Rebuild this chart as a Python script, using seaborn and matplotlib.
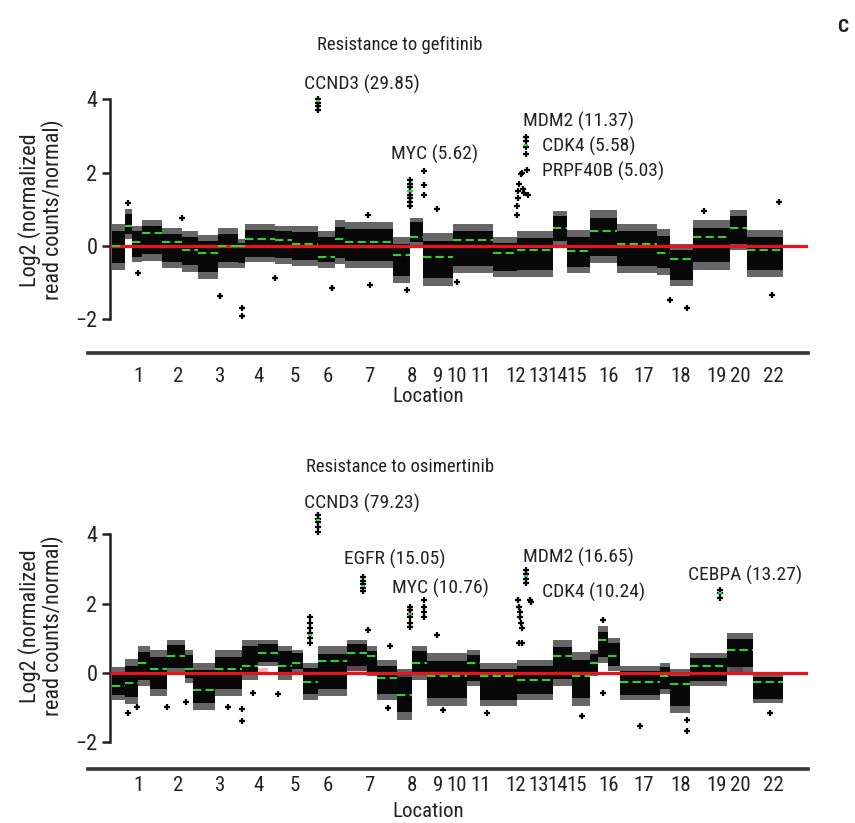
import numpy as np
import pandas as pd
import seaborn as sns
import matplotlib.pyplot as plt

# chromosome tick labels (21 is not labelled in the original) and their positions on the genome axis
chrom_labels = ['1', '2', '3', '4', '5', '6', '7', '8', '9', '10', '11', '12',
                '13', '14', '15', '16', '17', '18', '19', '20', '22']
chrom_pos = [29, 68, 110, 149, 185, 218, 259, 302, 328, 347, 371, 406,
             429, 448, 467, 499, 534, 571, 607, 630, 663]

# ---- gefitinib: segments (start, end, segment mean, cloud low, cloud high)
gef_x0 = [2, 15, 22, 32, 52, 72, 88, 108, 128, 135, 165, 182, 208, 225, 235,
          283, 300, 313, 343, 383, 407, 443, 457, 480, 507, 547, 560, 583, 620, 637]
gef_x1 = [15, 22, 32, 52, 72, 88, 108, 128, 135, 165, 182, 208, 225, 235, 283,
          300, 313, 343, 383, 407, 443, 457, 480, 507, 547, 560, 583, 620, 637, 673]
gef_mean = [0.0, 0.55, 0.1, 0.35, 0.1, -0.1, -0.2, 0.0, 0.0, 0.2, 0.15, 0.05, -0.3, 0.2, 0.1,
            -0.25, 0.25, -0.3, 0.15, -0.2, -0.1, 0.5, -0.15, 0.4, 0.05, -0.2, -0.35, 0.25, 0.5, -0.1]
gef_lo = [-0.65, 0.2, -0.45, -0.4, -0.6, -0.7, -0.9, -0.6, -0.6, -0.45, -0.5, -0.55, -0.6, -0.5, -0.6,
          -1.0, 0.0, -1.1, -0.75, -0.85, -0.85, 0.0, -0.75, -0.48, -0.75, -0.8, -1.1, -0.65, -0.1, -0.85]
gef_hi = [0.6, 1.0, 0.55, 0.7, 0.5, 0.4, 0.3, 0.5, 0.2, 0.6, 0.55, 0.55, 0.4, 0.7, 0.65,
          0.25, 0.75, 0.35, 0.6, 0.25, 0.4, 0.95, 0.42, 0.97, 0.6, 0.45, 0.05, 0.7, 0.97, 0.42]
# amplified bins
gef_amp_x = [208, 208, 208, 208, 300, 300, 300, 300, 300, 300, 300, 300, 314, 314, 314,
             407, 407, 408, 408, 409, 411, 412, 413, 414, 416, 416, 416, 416, 417, 418]
gef_amp_y = [4.0, 3.9, 3.8, 3.7, 1.8, 1.7, 1.6, 1.5, 1.4, 1.3, 1.2, 1.1, 2.04, 1.65, 1.4,
             0.85, 1.1, 1.3, 1.5, 1.7, 1.95, 2.0, 1.55, 1.45, 2.97, 2.85, 2.7, 2.5, 2.07, 1.4]
gef_out_x = [18, 28, 72, 110, 132, 132, 165, 222, 258, 260, 297, 327, 347, 560, 577, 594, 662, 669]
gef_out_y = [1.17, -0.74, 0.76, -1.38, -1.7, -1.92, -0.87, -1.14, 0.85, -1.07, -1.2, 1.0, -0.98,
             -1.47, -1.7, 0.95, -1.33, 1.2]
gef_amp_seg = [(206, 210, 3.95), (297, 303, 1.5), (414, 418, 2.75)]
gef_pink = [(625, 635, 0.2)]

# ---- osimertinib
osi_x0 = [2, 15, 28, 40, 57, 75, 83, 105, 132, 148, 168, 182, 193, 208, 237, 257, 267,
          287, 302, 317, 357, 370, 407, 443, 462, 480, 488, 498, 510, 550, 560, 580, 617, 643]
osi_x1 = [15, 28, 40, 57, 75, 83, 105, 132, 148, 168, 182, 193, 208, 237, 257, 267, 287,
          302, 317, 357, 370, 407, 443, 462, 480, 488, 498, 510, 550, 560, 580, 617, 643, 673]
osi_mean = [-0.37, -0.3, 0.29, 0.1, 0.48, 0.1, -0.5, 0.1, 0.19, 0.58, 0.19, 0.29, -0.25, 0.33,
            0.58, 0.48, -0.15, -0.65, 0.29, -0.1, 0.29, -0.1, -0.2, 0.48, -0.1, 0.29, 0.96, 0.5,
            -0.25, -0.1, -0.33, 0.2, 0.67, -0.25]
osi_lo = [-0.78, -0.9, -0.38, -0.67, 0.0, -0.3, -1.06, -0.67, -0.19, 0.19, -0.19, 0.0, -0.77, -0.67,
          0.05, -0.1, -0.77, -1.35, -0.19, -0.96, -0.38, -0.96, -0.77, -0.38, -0.96, -0.1, 0.3, 0.05,
          -0.77, -0.6, -1.15, -0.38, 0.0, -0.87]
osi_hi = [0.17, 0.4, 0.77, 0.67, 0.96, 0.67, 0.29, 0.67, 0.96, 0.96, 0.77, 0.67, 0.29, 0.77,
          0.96, 0.77, 0.38, 0.1, 0.77, 0.58, 0.67, 0.29, 0.38, 0.96, 0.6, 0.67, 1.35, 1.0,
          0.2, 0.3, 0.1, 0.58, 1.15, 0.0]
osi_amp_x = [200, 200, 200, 200, 200, 200, 208, 208, 208, 208, 208, 253, 253, 253, 253, 253, 258,
             300, 300, 300, 300, 300, 300, 314, 314, 314, 314,
             408, 409, 410, 410, 411, 412, 412, 416, 416, 416, 416, 420, 421, 610, 610, 610, 493]
osi_amp_y = [1.6, 1.45, 1.3, 1.15, 1.0, 0.86, 4.55, 4.45, 4.35, 4.2, 4.05, 2.77, 2.65, 2.55, 2.45, 2.35, 1.25,
             1.9, 1.8, 1.7, 1.6, 1.45, 1.33, 2.1, 1.9, 1.75, 1.6,
             2.1, 1.9, 1.75, 1.6, 1.45, 1.3, 0.86, 2.97, 2.85, 2.7, 2.6, 2.1, 2.05, 2.4, 2.3, 2.17, 1.53]
osi_out_x = [18, 27, 57, 76, 118, 132, 132, 143, 168, 278, 280, 327, 333, 377, 409, 472, 493, 530,
             577, 577, 660]
osi_out_y = [-1.15, -0.97, -0.97, -0.85, -0.97, -1.04, -1.4, -0.58, -0.6, -1.0, 0.78, 1.1, -1.07,
             -1.15, 0.86, -1.25, -0.58, -1.53, -1.67, -1.35, -1.15]
osi_amp_seg = [(206, 210, 4.4), (251, 255, 2.5), (298, 302, 1.7), (414, 418, 2.8), (608, 612, 2.3),
               (198, 202, 1.1)]
osi_pink = [(148, 158, 0.15), (237, 257, 0.4), (620, 633, 0.25)]
osi_blue = [(287, 302, -0.8)]

gef_labels = [('CCND3 (29.85)', 252, 4.39, 'center'), ('MYC (5.62)', 325, 2.48, 'center'),
              ('MDM2 (11.37)', 413, 3.4, 'left'), ('CDK4 (5.58)', 432, 2.72, 'left'),
              ('PRPF40B (5.03)', 432, 2.04, 'left')]
osi_labels = [('CCND3 (79.23)', 252, 4.9, 'center'), ('EGFR (15.05)', 234, 3.26, 'left'),
              ('MYC (10.76)', 282, 2.45, 'left'), ('MDM2 (16.65)', 413, 3.34, 'left'),
              ('CDK4 (10.24)', 432, 2.33, 'left'), ('CEBPA (13.27)', 578, 2.8, 'left')]

sns.set_theme(style="white")
plt.rcParams['font.family'] = ['Roboto Condensed', 'Liberation Sans Narrow', 'Liberation Sans', 'DejaVu Sans']

GREEN = '#2fd12f'
RED = '#e8141b'
INK = '#222222'


def draw_panel(ax, x0, x1, mean, lo, hi, amp_x, amp_y, out_x, out_y, amp_seg,
               pink, blue, labels, ylim, xpad, label_y):
    segs = pd.DataFrame({'x0': x0, 'x1': x1, 'mean': mean, 'lo': lo, 'hi': hi})
    # shaded call regions
    for a, b, v in pink:
        ax.fill_between([a, b], 0, v, color='#f5b3c3', lw=0, zorder=1)
    for a, b, v in blue:
        ax.fill_between([a, b], 0, v, color='#86c8ea', lw=0, zorder=1)
    # the dense bin cloud, one band per segment: softer outer band, solid core
    xs = np.ravel(np.column_stack([segs.x0, segs.x1]))
    los = np.repeat(segs.lo.values, 2)
    his = np.repeat(segs.hi.values, 2)
    rng = his - los
    ax.fill_between(xs, los, his, color='black', alpha=0.6, lw=0, zorder=2)
    ax.fill_between(xs, los + 0.15 * rng, his - 0.15 * rng, color='black', alpha=0.92, lw=0, zorder=2)
    pts = pd.DataFrame({'x': list(amp_x) + list(out_x), 'y': list(amp_y) + list(out_y)})
    sns.scatterplot(data=pts, x='x', y='y', ax=ax, color='black', marker='+', s=22,
                    linewidth=1.6, zorder=3)
    ax.hlines(0, 0, 698, color=RED, lw=2.3, zorder=4)
    ax.hlines(segs['mean'], segs.x0, segs.x1, color=GREEN, lw=1.5,
              linestyles=(0, (4, 2)), zorder=5)
    for a, b, v in amp_seg:
        ax.hlines(v, a, b, color=GREEN, lw=1.5, zorder=5)
    for txt, x, y, ha in labels:
        ax.text(x, y, txt, ha=ha, va='center', fontsize=14, color=INK)

    for s in ['top', 'right']:
        ax.spines[s].set_visible(False)
    ax.spines['left'].set_position(('data', 0))
    ax.spines['left'].set_bounds(-2, 4)
    ax.spines['left'].set_linewidth(1.8)
    ax.spines['left'].set_color(INK)
    ax.spines['bottom'].set_linewidth(2.6)
    ax.spines['bottom'].set_color('#333333')

    ax.set_xlim(-22, 698)
    ax.set_ylim(*ylim)
    ax.set_yticks([-2, 0, 2, 4])
    ax.set_yticklabels(['\u22122', '0', '2', '4'])
    ax.set_xticks(chrom_pos)
    ax.set_xticklabels(chrom_labels)
    ax.tick_params(axis='x', length=0, pad=xpad, colors=INK, labelsize=15)
    ax.tick_params(axis='y', length=6, width=1.8, direction='out', pad=3, colors=INK,
                   left=True, labelsize=16)
    ax.set_xlabel('Location', fontsize=15, labelpad=0, color=INK)
    ax.xaxis.set_label_coords((428 - 88) / 720, label_y)
    ax.set_ylabel('')
    ax.grid(False)


fig = plt.figure(figsize=(8.55, 8.23), dpi=100)
ax1 = fig.add_axes([0.1029, 0.5711, 0.8421, 0.3530])
ax2 = fig.add_axes([0.1029, 0.0656, 0.8421, 0.3275])

draw_panel(ax1, gef_x0, gef_x1, gef_mean, gef_lo, gef_hi, gef_amp_x, gef_amp_y,
           gef_out_x, gef_out_y, gef_amp_seg, gef_pink, [], gef_labels, (-2.92, 5.0), 10, -0.117)
draw_panel(ax2, osi_x0, osi_x1, osi_mean, osi_lo, osi_hi, osi_amp_x, osi_amp_y,
           osi_out_x, osi_out_y, osi_amp_seg, osi_pink, osi_blue, osi_labels, (-2.77, 5.0), 5, -0.124)

fig.text(400 / 855, 1 - 45 / 823, 'Resistance to gefitinib', ha='center', va='center', fontsize=13.5, color=INK)
fig.text(400 / 855, 1 - 467 / 823, 'Resistance to osimertinib', ha='center', va='center', fontsize=13.5, color=INK)
for yc in [210, 626]:
    fig.text(41 / 855, 1 - yc / 823, 'Log2 (normalized\nread counts/normal)', rotation=90,
             ha='center', va='center', fontsize=16, linespacing=1.0, color=INK)
fig.text(843 / 855, 1 - 27 / 823, 'C', ha='center', va='center', fontsize=14, fontweight='bold', color=INK)

plt.savefig('out.png', dpi=100)
